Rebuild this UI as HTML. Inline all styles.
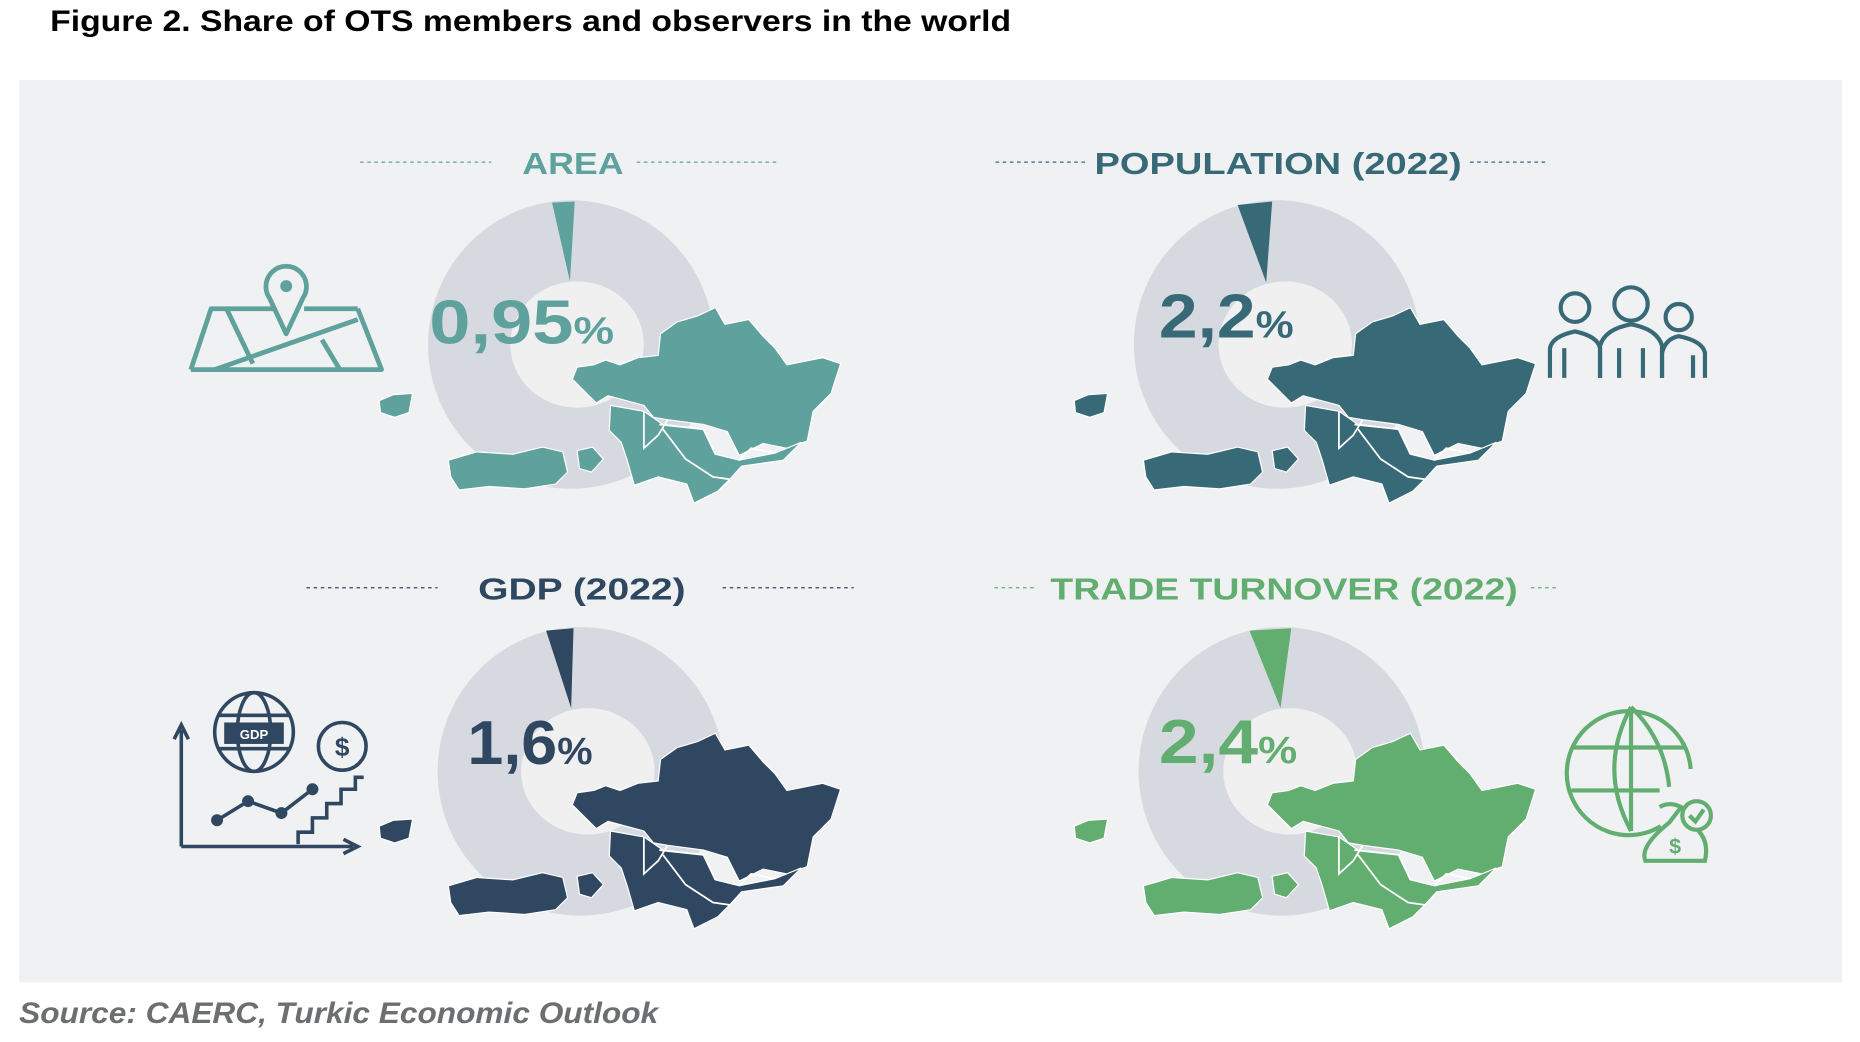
<!DOCTYPE html>
<html><head><meta charset="utf-8"><style>
html,body{margin:0;padding:0;background:#fff;width:1860px;height:1042px;overflow:hidden}
svg{display:block}
text{font-family:"Liberation Sans",sans-serif;font-weight:bold}
</style></head><body>
<svg width="1860" height="1042" viewBox="0 0 1560 874" xmlns="http://www.w3.org/2000/svg">
<defs>
<g id="map">
  <path d="M480,318 L484,308 L498,306 L508,302 L520,306 L535,300 L552,298 L554,280 L568,270 L585,265 L600,258 L608,272 L628,268 L640,282 L650,292 L660,306 L690,300 L705,305 L697,330 L682,345 L677,370 L660,376 L640,372 L620,382 L610,362 L590,356 L560,352 L548,350 L540,340 L525,336 L510,332 L500,338 L492,330 Z"/>
  <path d="M512,340 L540,345 L556,356 L590,360 L600,381 L620,386 L650,380 L672,371 L657,386 L622,391 L612,402 L602,412 L582,422 L576,406 L552,400 L532,407 L526,386 L521,371 L511,361 Z"/>
  <path d="M376,386 L400,379 L430,381 L455,375 L472,379 L476,396 L466,406 L440,410 L410,408 L385,411 L378,400 Z"/>
  <path d="M484,378 L497,375 L506,385 L496,396 L486,393 Z"/>
  <path d="M318,336 L330,331 L346,330 L343,346 L331,350 L319,346 Z"/>
  <g fill="none" stroke="#fff" stroke-width="1.5">
    <polyline points="540,345 540,376 552,365 560,352"/>
    <polyline points="553,356 590,360 600,381"/>
    <polyline points="556,360 575,385 598,400 612,402"/>
    <polyline points="620,386 630,376 650,380"/>
  </g>
</g>
</defs>
<rect x="0" y="0" width="1560" height="874" fill="#fff"/>
<text x="42" y="26" font-size="25" fill="#000" textLength="806" lengthAdjust="spacingAndGlyphs">Figure 2. Share of OTS members and observers in the world</text>
<rect x="16" y="67" width="1529" height="757" fill="#f0f1f3"/>
<text x="16" y="858" font-size="25" font-style="italic" fill="#6d6e70" textLength="536" lengthAdjust="spacingAndGlyphs">Source: CAERC, Turkic Economic Outlook</text>

<g stroke-width="1" stroke-dasharray="3,3">
  <line x1="302" y1="136" x2="412" y2="136" stroke="#5fa19c"/><line x1="534" y1="136" x2="652" y2="136" stroke="#5fa19c"/>
  <line x1="835" y1="136" x2="910" y2="136" stroke="#386977"/><line x1="1233" y1="136" x2="1296" y2="136" stroke="#386977"/>
  <line x1="257" y1="493" x2="367" y2="493" stroke="#2f4760"/><line x1="606" y1="493" x2="716" y2="493" stroke="#2f4760"/>
  <line x1="834" y1="493" x2="870" y2="493" stroke="#62ad70"/><line x1="1284" y1="493" x2="1306" y2="493" stroke="#62ad70"/>
</g>
<text x="438" y="146" font-size="26" fill="#5fa19c" textLength="85" lengthAdjust="spacingAndGlyphs">AREA</text>
<text x="918" y="146" font-size="26" fill="#386977" textLength="308" lengthAdjust="spacingAndGlyphs">POPULATION (2022)</text>
<text x="401" y="503" font-size="26" fill="#2f4760" textLength="174" lengthAdjust="spacingAndGlyphs">GDP (2022)</text>
<text x="881" y="503" font-size="26" fill="#62ad70" textLength="392" lengthAdjust="spacingAndGlyphs">TRADE TURNOVER (2022)</text>

<g>
  <ellipse cx="479" cy="289" rx="120" ry="121" fill="#d7d9e0"/><ellipse cx="484" cy="289" rx="56" ry="53" fill="#f0f0f1"/>
  <polygon points="463,170 482,169 478,236" fill="#5fa19c"/>
  <ellipse cx="1071" cy="289" rx="120" ry="121" fill="#d7d9e0"/><ellipse cx="1078" cy="289" rx="56" ry="53" fill="#f0f0f1"/>
  <polygon points="1038,172 1067,169 1062,237" fill="#386977"/>
  <ellipse cx="487" cy="647" rx="120" ry="121" fill="#d7d9e0"/><ellipse cx="493" cy="647" rx="56" ry="53" fill="#f0f0f1"/>
  <polygon points="458,529 481,527 479,594" fill="#2f4760"/>
  <ellipse cx="1075" cy="647" rx="120" ry="121" fill="#d7d9e0"/><ellipse cx="1082" cy="647" rx="56" ry="53" fill="#f0f0f1"/>
  <polygon points="1048,529 1083,527 1074,594" fill="#62ad70"/>
</g>
<use href="#map" fill="#5fa19c" stroke="#fff" stroke-width="1"/>
<use href="#map" transform="translate(583,0)" fill="#386977" stroke="#fff" stroke-width="1"/>
<use href="#map" transform="translate(0,357)" fill="#2f4760" stroke="#fff" stroke-width="1"/>
<use href="#map" transform="translate(583,357)" fill="#62ad70" stroke="#fff" stroke-width="1"/>

<text x="360" y="288" font-size="52" fill="#5fa19c" textLength="155" lengthAdjust="spacingAndGlyphs">0,95<tspan font-size="32">%</tspan></text>
<text x="972" y="283" font-size="52" fill="#386977" textLength="113" lengthAdjust="spacingAndGlyphs">2,2<tspan font-size="32">%</tspan></text>
<text x="392" y="641" font-size="52" fill="#2f4760" textLength="105" lengthAdjust="spacingAndGlyphs">1,6<tspan font-size="32">%</tspan></text>
<text x="972" y="640" font-size="52" fill="#62ad70" textLength="116" lengthAdjust="spacingAndGlyphs">2,4<tspan font-size="32">%</tspan></text>

<g fill="none" stroke="#5fa19c" stroke-width="4" stroke-linejoin="round">
  <path d="M240,280 L226,250 A17,17 0 1 1 254,250 Z"/>
  <circle cx="240" cy="240" r="5" fill="#5fa19c" stroke="none"/>
  <path d="M230,259 L177,259 L160,310 M300,259 L255,259 M300,259 L320,310 L160,310"/>
  <path d="M190,259 L212,305 M180,310 L300,268 M270,285 L285,310"/>
</g>
<g fill="none" stroke="#386977" stroke-width="3.5">
  <circle cx="1321" cy="258" r="12"/><circle cx="1368" cy="255" r="14"/><circle cx="1408" cy="266" r="11"/>
  <path d="M1300,317 L1300,292 Q1302,282 1321,278 Q1340,282 1342,292 L1342,317"/>
  <path d="M1342,317 L1342,290 Q1346,276 1368,272 Q1390,276 1394,290 L1394,317"/>
  <path d="M1394,317 L1394,296 Q1397,284 1408,282 Q1428,286 1430,296 L1430,317"/>
  <path d="M1312,292 L1312,317 M1358,292 L1358,317 M1378,292 L1378,317 M1420,298 L1420,317"/>
</g>
<g fill="none" stroke="#2f4760" stroke-width="3">
  <path d="M152,710 L152,612 M146,620 L152,608 L158,620 M152,710 L296,710 M288,704 L300,710 L288,716"/>
  <circle cx="213" cy="614" r="33"/><ellipse cx="213" cy="614" rx="14" ry="33"/>
  <line x1="182" y1="600" x2="244" y2="600"/><line x1="182" y1="628" x2="244" y2="628"/>
  <circle cx="287" cy="626" r="20"/>
  <polyline points="182,688 208,672 236,682 262,662"/>
  <polyline points="250,708 250,698 262,698 262,686 274,686 274,674 286,674 286,662 298,662 298,652 305,652"/>
</g>
<rect x="188" y="606" width="50" height="18" fill="#2f4760"/>
<text x="213" y="620" font-size="11" fill="#fff" text-anchor="middle">GDP</text>
<text x="287" y="634" font-size="22" fill="#2f4760" text-anchor="middle">$</text>
<g fill="#2f4760"><circle cx="182" cy="688" r="5"/><circle cx="208" cy="672" r="5"/><circle cx="236" cy="682" r="5"/><circle cx="262" cy="662" r="5"/></g>
<g fill="none" stroke="#62ad70" stroke-width="3.5">
  <path d="M1393,693 A52,52 0 1 1 1418,645"/>
  <path d="M1368,593 Q1340,645 1368,697 M1368,593 Q1396,620 1400,660"/>
  <line x1="1368" y1="593" x2="1368" y2="697"/>
  <line x1="1320" y1="627" x2="1412" y2="627"/><line x1="1318" y1="663" x2="1392" y2="663"/>
  <path d="M1392,677 Q1400,672 1410,677 L1400,690 Q1375,710 1380,722 L1430,722 Q1435,700 1415,690"/>
  <circle cx="1423" cy="684" r="12" fill="#f0f1f3"/>
  <polyline points="1417,684 1422,689 1429,679"/>
</g>
<text x="1405" y="716" font-size="18" fill="#62ad70" text-anchor="middle">$</text>
</svg>
</body></html>
